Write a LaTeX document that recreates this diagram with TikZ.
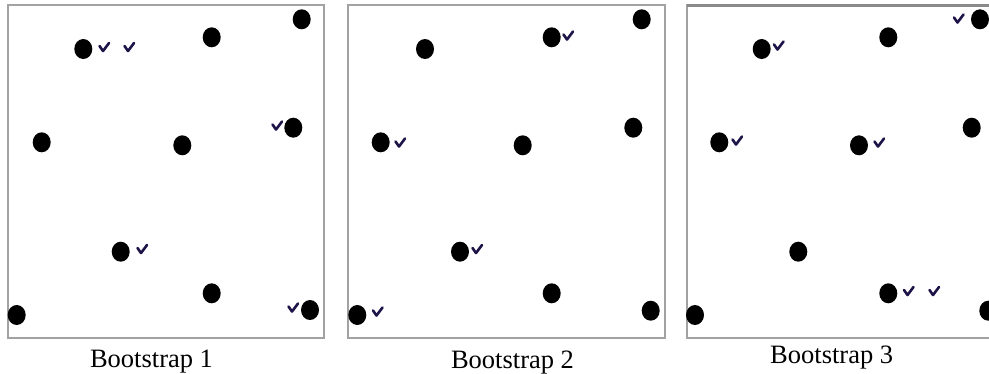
\documentclass[tikz,border=0pt]{standalone}
\usepackage{fontspec}
\setmainfont{Liberation Serif}
\definecolor{framegray}{HTML}{A2A2A2}
\definecolor{checkink}{HTML}{1E1448}
\tikzset{
  panelframe/.style={draw=framegray, line width=2pt},
  sample/.style={fill=black},
  caption/.style={anchor=base, font=\fontsize{26.5}{30}\selectfont, inner sep=0pt},
  checkmk/.pic={
    \draw[checkink, line width=2.6pt, line cap=round, line join=round]
      (-4.5,-1.5) -- (-1,3.5) -- (5,-4.5);
  }
}
\begin{document}
\begin{tikzpicture}[x=1pt, y=-1pt]
  \useasboundingbox (0,0) rectangle (989,373);
  \clip (0,0) rectangle (989,373);

  % three bootstrap panels
  \draw[panelframe] (8,5) rectangle (324,338);
  \draw[panelframe] (348,5) rectangle (665,338);
  \draw[panelframe] (687,5) rectangle (1004,338);
  \draw[framegray!85!black, line width=3pt] (687,5) -- (1004,5);

  % sample points, panel 1
  \foreach \px/\py in {83.3/49, 211.7/37.3, 301.7/19.3, 41.7/142.3, 182.3/145.3,
                       293.3/127.7, 120.7/251.7, 211.7/293.3, 16.7/315, 310/310}
    \fill[sample] (\px,\py) ellipse (9pt and 10pt);
  % sample points, panel 2
  \foreach \px/\py in {425/49, 551.7/37.3, 641.7/19.3, 380.7/142.3, 522.7/145.3,
                       633.3/127.7, 460/251.7, 551.7/293.3, 357.3/315, 650.7/310.7}
    \fill[sample] (\px,\py) ellipse (9pt and 10pt);
  % sample points, panel 3
  \foreach \px/\py in {761.7/49, 888.3/37.3, 980/19.3, 719.3/142.3, 859/145.3,
                       971.7/127.7, 798.3/251.7, 888.3/293.3, 695/315, 988.3/310.7}
    \fill[sample] (\px,\py) ellipse (9pt and 10pt);

  % drawn-sample marks
  \foreach \cx/\cy in {104/47.5, 129/47.5, 277/126, 142/249.5, 293/308,
                       568/36, 400/143, 477/249.5, 377.5/312,
                       958.5/19, 778.5/46, 737/141, 879/143, 908.5/291.5, 934/291.5}
    \pic at (\cx,\cy) {checkmk};

  % captions
  \node[caption] (cap1) at (151.5,367.3) {Bootstrap 1};
  \node[caption] (cap2) at (512.5,368) {Bootstrap 2};
  \node[caption] (cap3) at (831.7,363.3) {Bootstrap 3};
\end{tikzpicture}
\end{document}
